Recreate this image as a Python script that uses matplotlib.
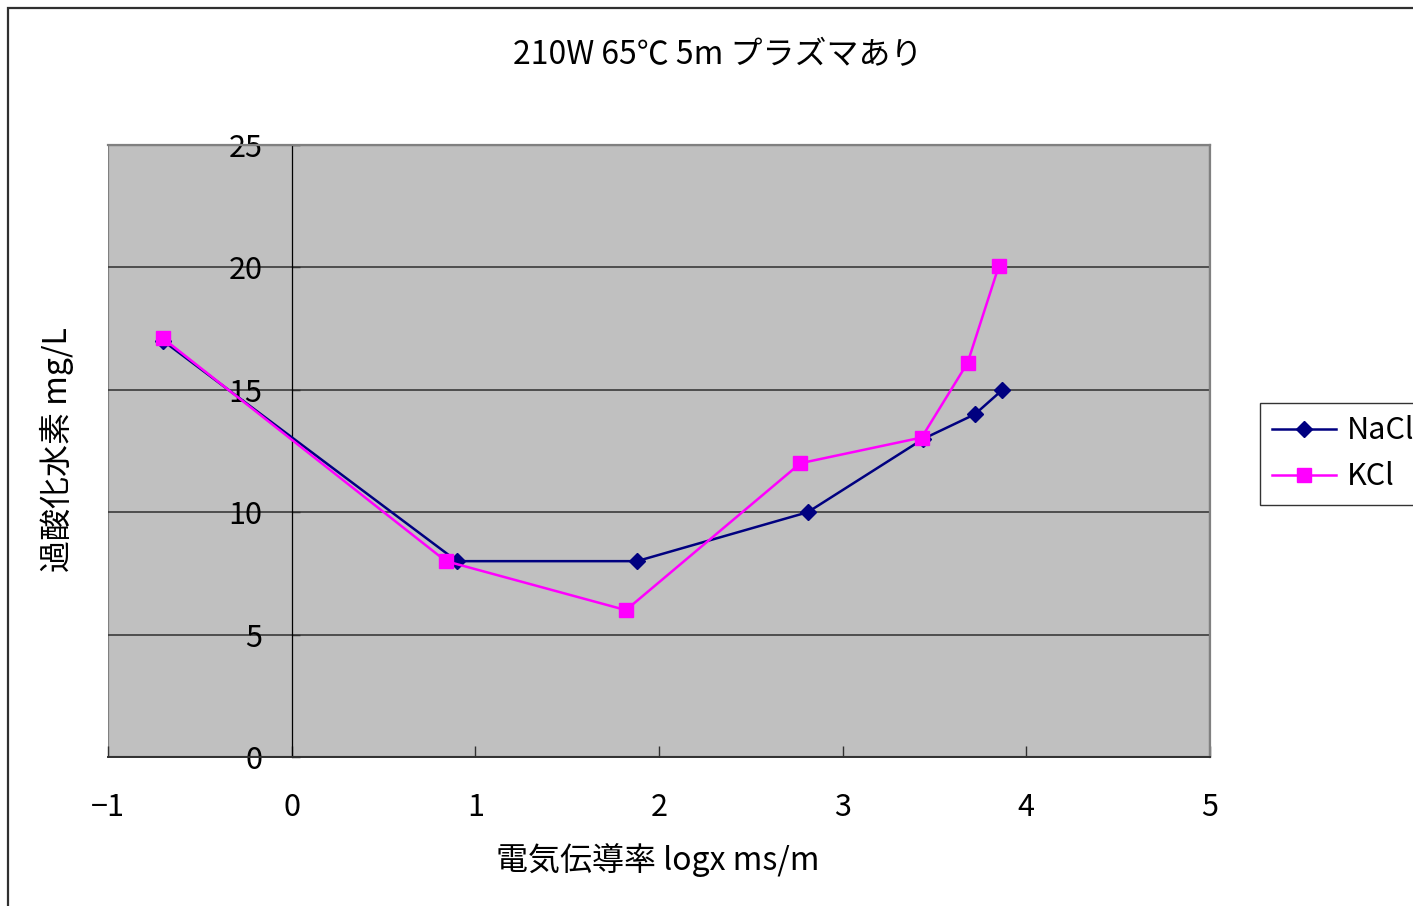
import matplotlib
matplotlib.use("Agg")
import matplotlib.pyplot as plt
from matplotlib.patches import Rectangle

plt.rcParams['font.family'] = ['Noto Sans CJK JP', 'DejaVu Sans']
plt.rcParams['axes.unicode_minus'] = True

# 電気伝導率(log) と 過酸化水素濃度
nacl_x = [-0.70, 0.90, 1.88, 2.81, 3.44, 3.72, 3.87]
nacl_y = [17.0, 8.0, 8.0, 10.0, 13.0, 14.0, 15.0]
kcl_x = [-0.70, 0.84, 1.82, 2.77, 3.43, 3.68, 3.85]
kcl_y = [17.1, 8.0, 6.0, 12.0, 13.05, 16.1, 20.05]

x_ticks = [-1, 0, 1, 2, 3, 4, 5]
y_ticks = [0, 5, 10, 15, 20, 25]

FS = 22
W, H = 1413, 906
fig = plt.figure(figsize=(W / 100, H / 100), dpi=100)
ax = fig.add_axes([108 / W, 1 - 757 / H, (1210 - 108) / W, (757 - 145) / H])
ax.set_facecolor('#c0c0c0')

# グラフエリアの外枠
fig.add_artist(Rectangle((8 / W, -0.1), 2, 1 - 8 / H + 0.1, transform=fig.transFigure,
                         fill=False, ec='#303030', lw=1.6))

ax.set_xlim(-1, 5)
ax.set_ylim(0, 25)
ax.set_xticks(x_ticks)
ax.set_yticks(y_ticks)
ax.set_xticklabels(['−1', '0', '1', '2', '3', '4', '5'])

for y in y_ticks[1:-1]:
    ax.axhline(y, color='#3a3a3a', lw=1.2, zorder=1)

# プロットエリアの枠
for s in ['top', 'right']:
    ax.spines[s].set_color('#808080')
    ax.spines[s].set_linewidth(1.6)
ax.add_patch(Rectangle((0, 0), 1, 1, transform=ax.transAxes, fill=False,
                       ec='#808080', lw=1.6, zorder=0.5))
ax.spines['left'].set_position(('data', 0))
ax.spines['left'].set_color('black')
ax.spines['left'].set_linewidth(0.9)
ax.spines['bottom'].set_color('#303030')
ax.spines['bottom'].set_linewidth(1.4)

ax.tick_params(axis='x', direction='in', length=8, width=1, pad=25,
               labelsize=FS, color='#303030')
ax.tick_params(axis='y', direction='in', length=6, width=1, pad=21,
               labelsize=FS, color='#303030')

ax.plot(nacl_x, nacl_y, color='#000080', lw=1.8, marker='D', markersize=8.5,
        label='NaCl', zorder=3)
ax.plot(kcl_x, kcl_y, color='#ff00ff', lw=1.8, marker='s', markersize=10,
        label='KCl', zorder=4)

fig.text(718 / W, 1 - 55 / H, '210W 65℃ 5m プラズマあり', ha='center', va='center',
         fontsize=FS + 1)
fig.text(658 / W, 1 - 860 / H, '電気伝導率 logx ms/m', ha='center', va='center',
         fontsize=FS + 1)
fig.text(57 / W, 1 - 450 / H, '過酸化水素 mg/L', ha='center', va='center',
         rotation=90, fontsize=FS + 1)

leg = fig.legend(loc='upper left', bbox_to_anchor=(1260 / W, 1 - 403 / H),
                 borderaxespad=0, fontsize=FS, frameon=True, fancybox=False,
                 handlelength=2.1, borderpad=0.4, labelspacing=0.5,
                 handletextpad=0.35)
leg.get_frame().set_edgecolor('black')
leg.get_frame().set_linewidth(1)

fig.savefig('out.png', dpi=100)
